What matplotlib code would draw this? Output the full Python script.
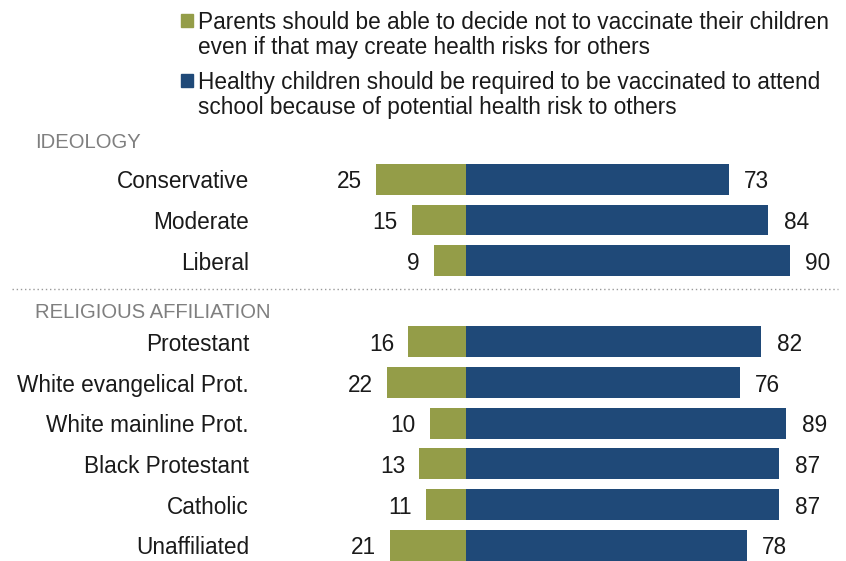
import matplotlib.pyplot as plt
from matplotlib.patches import Rectangle

# Data
ideology = ['Conservative', 'Moderate', 'Liberal']
ideology_parents = [25, 15, 9]
ideology_required = [73, 84, 90]

religion = ['Protestant', 'White evangelical Prot.', 'White mainline Prot.',
            'Black Protestant', 'Catholic', 'Unaffiliated']
religion_parents = [16, 22, 10, 13, 11, 21]
religion_required = [82, 76, 89, 87, 87, 78]

legend_labels = ['Parents should be able to decide not to vaccinate their children\neven if that may create health risks for others',
                 'Healthy children should be required to be vaccinated to attend\nschool because of potential health risk to others']

green = '#949D48'
blue = '#1F4978'
W, H = 846, 561

plt.rcParams['font.family'] = ['Liberation Sans', 'DejaVu Sans']
fig = plt.figure(figsize=(W / 100, H / 100), dpi=100)
ax = fig.add_axes([0, 0, 1, 1])

# scale: 3.6 px per point, zero at x=466 px; rows 40.65 px apart, first at y=179.3 px
px = 3.6
x0 = 466
ax.set_xlim(-x0 / px, (W - x0) / px)
row = 40.65
y0 = 179.3
ax.set_ylim((H - y0) / row, -y0 / row)
ax.axis('off')

cats = ideology + religion
parents = ideology_parents + religion_parents
required = ideology_required + religion_required
ypos = [0, 1, 2, 4, 5, 6, 7, 8, 9]

fs = 16.3
dy = 2.5 / row  # nudge text down to match the reference baseline
ax.barh(ypos, [-p for p in parents], height=0.76, color=green)
ax.barh(ypos, required, height=0.76, color=blue)
for y, c, p, r in zip(ypos, cats, parents, required):
    ax.text(-p - 3.9, y + dy, str(p), ha='right', va='center', fontsize=fs, color='#1a1a1a')
    ax.text(r + 4.3, y + dy, str(r), ha='left', va='center', fontsize=fs, color='#1a1a1a')
    ax.text((249 - x0) / px, y + dy, c, ha='right', va='center', fontsize=fs, color='#1a1a1a')

# section headers
hfs = 14.6
ax.text((35 - x0) / px, -0.97 + dy, 'IDEOLOGY', ha='left', va='center', fontsize=hfs, color='#7f7f7f')
ax.text((35 - x0) / px, 3.21 + dy, 'RELIGIOUS AFFILIATION', ha='left', va='center', fontsize=hfs, color='#7f7f7f')
ax.axhline(2.70, xmin=12 / W, xmax=838 / W, color='#999999', linestyle=(0, (1, 2)), linewidth=1)

# legend
for i, (lab, col) in enumerate(zip(legend_labels, [green, blue])):
    top = 14 + i * 60
    fig.add_artist(Rectangle((181 / W, 1 - (top + 13) / H), 12 / W, 13 / H,
                             transform=fig.transFigure, color=col))
    fig.text(198 / W, 1 - (top - 3) / H, lab, ha='left', va='top', fontsize=fs,
             color='#1a1a1a', linespacing=1.12)

fig.savefig('out.png', dpi=100)
